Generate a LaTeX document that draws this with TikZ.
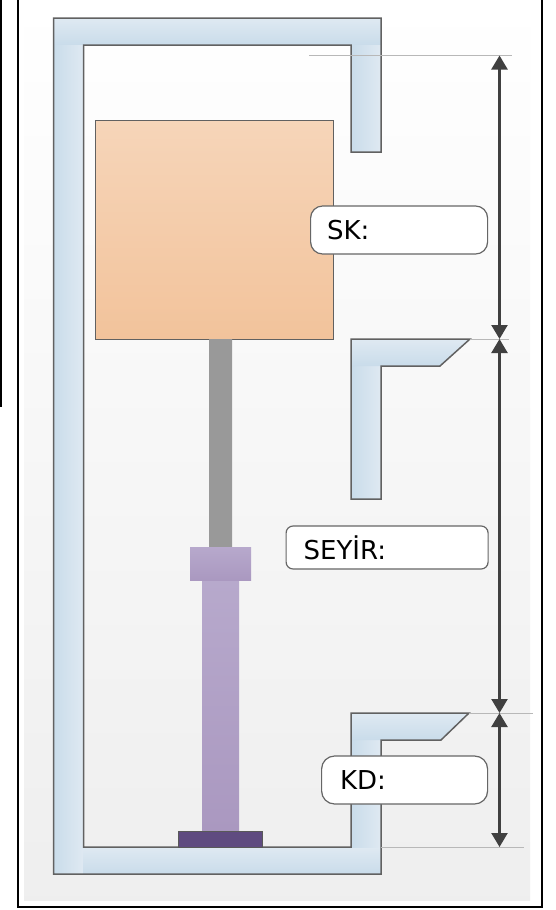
\documentclass[tikz,border=0pt]{standalone}
\usepackage{fontspec}
\setmainfont{DejaVu Sans}
\usetikzlibrary{arrows.meta}
\definecolor{armdark}{HTML}{C9DCEA}
\definecolor{armlight}{HTML}{DFE9F2}
\definecolor{orangetop}{HTML}{F6D5B9}
\definecolor{orangebot}{HTML}{F2C39B}
\definecolor{purpletop}{HTML}{B7A9CC}
\definecolor{purplebot}{HTML}{AA98C0}
\definecolor{purplebase}{HTML}{5F4B80}
\tikzset{
  outline/.style={draw=black!62,line width=1.5pt,line join=miter},
  armh/.style={top color=armlight,bottom color=armdark},
  armv/.style={left color=armdark,right color=armlight},
  guide/.style={draw=black!28,line width=1pt},
  dim/.style={draw=black!75,line width=2.4pt,{Triangle[length=14pt,width=16pt]}-{Triangle[length=14pt,width=16pt]}},
  labelbox/.style={draw=black!60,line width=1.2pt,fill=white,anchor=west,align=left,font=\fontsize{26}{29}\selectfont,inner ysep=0pt,minimum height=#1},
  framel/.style={draw=black,line width=2.6pt}
}
\begin{document}
\begin{tikzpicture}[x=1pt,y=-1pt]
\useasboundingbox (0,0) rectangle (555,910);
\fill[white] (0,0) rectangle (555,910);
% background
\shade[top color=white,bottom color=black!6.5] (24,0) rectangle (530,900);
% frame
\draw[framel] (18,-3) -- (18,907) -- (542,907) -- (542,-3);
\draw[draw=black,line width=2pt] (0.5,-3) -- (0.5,407);
% main channel
\shade[armh] (53.5,18) rectangle (381,45);
\shade[armv] (53.5,45) rectangle (83.5,874);
\shade[armh] (83.5,847) rectangle (381,874);
\shade[armv] (351,45) rectangle (381,152);
\shade[armv] (351,740) rectangle (381,847);
\shade[armh] (351,713) -- (469,713) -- (441,740) -- (351,740) -- cycle;
\draw[outline] (381,847) -- (381,740) -- (441,740) -- (469,713) -- (351,713) -- (351,847) -- (83.5,847) -- (83.5,45) -- (351,45) -- (351,152) -- (381,152) -- (381,18) -- (53.5,18) -- (53.5,874) -- (381,874) -- cycle;
% middle bracket
\shade[armv] (351,366) rectangle (381,499);
\shade[armh] (351,339) -- (470,339) -- (440,366) -- (351,366) -- cycle;
\draw[outline] (351,339) -- (470,339) -- (440,366) -- (381,366) -- (381,499) -- (351,499) -- cycle;
% piston
\shade[top color=orangetop,bottom color=orangebot] (95,120) rectangle (333,339);
\draw[draw=black!62,line width=1pt] (95,120) rectangle (333,339);
\shade[left color=black!40,right color=black!40] (209,339) rectangle (232,547);
\shade[top color=purpletop,bottom color=purplebot] (202,580) rectangle (239,831);
\shade[top color=purpletop,bottom color=purplebot] (190,547) rectangle (251,580);
\fill[fill=purplebase,draw=black!65,line width=1pt] (178,831) rectangle (262,847);
% guide lines
\coordinate (g1a) at (309,55.5);
\coordinate (g1b) at (512,55.5);
\coordinate (g2a) at (470,339);
\coordinate (g2b) at (509,339);
\coordinate (g3a) at (469,713);
\coordinate (g3b) at (533,713);
\coordinate (g4a) at (381,847);
\coordinate (g4b) at (524,847);
\draw[guide] (g1a) -- (g1b);
\draw[guide] (g2a) -- (g2b);
\draw[guide] (g3a) -- (g3b);
\draw[guide] (g4a) -- (g4b);
% dimension arrows
\coordinate (d1) at (499.5,55.5);
\coordinate (d2) at (499.5,339);
\coordinate (d3) at (499.5,713);
\coordinate (d4) at (499.5,847);
\draw[dim] (d1) -- (d2);
\draw[dim] (d2) -- (d3);
\draw[dim] (d3) -- (d4);
% labels
\node[labelbox=48pt,rounded corners=12pt,inner xsep=16.5pt,text width=144pt] (sk) at (310,230) {SK:};
\node[labelbox=43pt,rounded corners=7pt,inner xsep=17.5pt,text width=167pt] (seyir) at (285.5,547.5) {SEYİR:};
\node[labelbox=48pt,rounded corners=13pt,inner xsep=18.5pt,text width=129pt] (kd) at (321,780) {KD:};
\end{tikzpicture}
\end{document}
